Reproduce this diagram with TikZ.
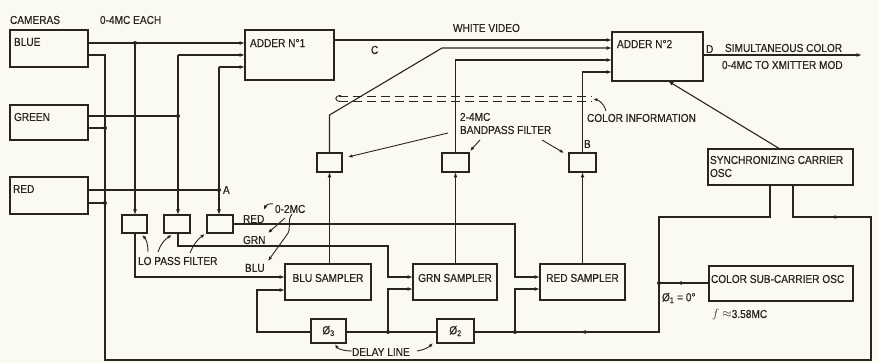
\documentclass[tikz,border=0pt]{standalone}
\usepackage{fontspec}
\setmainfont[FakeStretch=0.88,FakeBold=0.5]{Liberation Sans}
\usetikzlibrary{arrows.meta}
\definecolor{ink}{HTML}{2B241C}
\definecolor{paper}{HTML}{FBFAF2}
\newcommand{\mkbox}[5]{\node[box, minimum width={(#4)-(#2)}, minimum height={(#5)-(#3)}] (#1) at ({((#2)+(#4))/2},{((#3)+(#5))/2}) {};}
\begin{document}
\begin{tikzpicture}[x=1pt,y=-1pt,color=ink,line width=1.1pt,
  every node/.style={font=\fontsize{11.5}{13}\selectfont, inner sep=0pt, outer sep=0pt},
  box/.style={draw, rectangle},
  arr/.style={-{Latex[length=5.5pt,width=4pt]}},
  lbl/.style={anchor=west},
  note/.style={line width=0.9pt,-{Latex[length=4.5pt,width=3.5pt]}}]
\fill[paper] (0,0) rectangle (879,363);
\useasboundingbox (0,0) rectangle (879,363);

% boxes
\mkbox{blue}{10}{30}{88}{67}
\mkbox{green}{10}{105}{88}{140}
\mkbox{red}{10}{177}{88}{214}
\mkbox{addone}{245}{30}{334}{80}
\mkbox{addtwo}{612}{32}{703}{81}
\mkbox{lpa}{122}{215}{147}{233}
\mkbox{lpb}{164}{215}{190}{233}
\mkbox{lpc}{207}{215}{233}{233}
\mkbox{bpa}{317}{153}{342}{172}
\mkbox{bpb}{442}{153}{469}{172}
\mkbox{bpc}{569}{153}{596}{172}
\mkbox{bsam}{285}{264}{371}{300}
\mkbox{gsam}{413}{264}{497}{300}
\mkbox{rsam}{540}{264}{625}{300}
\mkbox{phc}{311}{319}{346}{343}
\mkbox{phb}{437}{319}{474}{343}
\mkbox{sync}{708}{149}{853}{185}
\mkbox{sub}{709}{266}{853}{301}

% texts
\node[lbl] (tcam) at (10,20) {CAMERAS};
\node[lbl] (teach) at (100,20) {0-4MC EACH};
\node[lbl] (tblue) at (14,42) {BLUE};
\node[lbl] (tgreen) at (14,117) {GREEN};
\node[lbl] (tred) at (13,189) {RED};
\node[lbl] (tadd1) at (250,43) {ADDER N°1};
\node[lbl] (tc) at (371,50) {C};
\node[lbl] (twv) at (453,28) {WHITE VIDEO};
\node[lbl] (tadd2) at (617,44) {ADDER N°2};
\node[lbl] (td) at (706,49) {D};
\node[lbl] (tsim) at (725,48) {SIMULTANEOUS COLOR};
\node[lbl] (tmod) at (722,65) {0-4MC TO XMITTER MOD};
\node[lbl] (tci) at (587,118) {COLOR INFORMATION};
\node[lbl] (tbpa) at (460,117) {2-4MC};
\node[lbl] (tbpb) at (460,130) {BANDPASS FILTER};
\node[lbl] (tb) at (584,144) {B};
\node[lbl] (tsya) at (710,160) {SYNCHRONIZING CARRIER};
\node[lbl] (tsyb) at (710,173) {OSC};
\node[lbl] (ta) at (223,190) {A};
\node[lbl] (tr) at (243,219) {RED};
\node[lbl] (tg) at (243,240) {GRN};
\node[lbl] (tbl) at (245,268) {BLU};
\node[lbl] (tzt) at (275,209) {0-2MC};
\node[lbl] (tlp) at (138,261) {LO PASS FILTER};
\node (tbs) at ([yshift=4pt]bsam.center) {BLU SAMPLER};
\node (tgs) at ([yshift=4pt]gsam.center) {GRN SAMPLER};
\node (trs) at ([yshift=4pt]rsam.center) {RED SAMPLER};
\node[lbl] (tsub) at (711,279) {COLOR SUB-CARRIER OSC};
\node[lbl] (tf) at (712,315) {$f\approx$3.58MC};
\node[lbl] (tpho) at (662,298) {Ø\textsubscript{1} = 0°};
\node (tphc) at (phc) {Ø\textsubscript{3}};
\node (tphb) at (phb) {Ø\textsubscript{2}};
\node[lbl] (tdl) at (352,352) {DELAY LINE};

% junction coordinates
\coordinate (jb) at (135,43);
\coordinate (gt) at (178,55);
\coordinate (jg) at (178,116);
\coordinate (rt) at (219,67);
\coordinate (ja) at (219,190);
\coordinate (ka) at (105,55);
\coordinate (kb) at (105,128);
\coordinate (kc) at (105,203);
\coordinate (kd) at (105,360);
\coordinate (ke) at (871,360);
\coordinate (kf) at (871,217);
\coordinate (kg) at (793,217);
\coordinate (karr) at (840,217);

% camera outputs to adder 1 and low pass filters
\draw[arr] (blue.east |- jb) -- (addone.west |- jb);
\draw[arr] (jb) -- (lpa.north -| jb);
\draw (green.east |- jg) -- (jg);
\draw[arr] (gt) -- (addone.west |- gt);
\draw[arr] (gt) -- (lpb.north -| gt);
\draw (red.east |- ja) -- (ja);
\draw[arr] (rt) -- (addone.west |- rt);
\draw[arr] (rt) -- (lpc.north -| rt);

% sync return line to cameras
\draw (blue.east |- ka) -- (ka) -- (kd) -- (ke) -- (kf) -- (kg) -- (sync.south -| kg);
\draw[arr] (kg) -- (karr);
\draw (green.east |- kb) -- (kb);
\draw (red.east |- kc) -- (kc);

% low pass outputs to samplers
\coordinate (rca) at (515,224);
\coordinate (rcb) at (515,277);
\draw[arr] (lpc.east |- rca) -- (rca) -- (rcb) -- (rsam.west |- rcb);
\coordinate (gca) at (178,246);
\coordinate (gcb) at (388,246);
\coordinate (gcc) at (388,277);
\draw[arr] (lpb.south -| gca) -- (gca) -- (gcb) -- (gcc) -- (gsam.west |- gcc);
\coordinate (bca) at (135,277);
\draw[arr] (lpa.south -| bca) -- (bca) -- (bsam.west |- bca);

% delay line chain
\coordinate (sa) at (770,217);
\coordinate (da) at (659,217);
\coordinate (db) at (659,283);
\coordinate (dc) at (659,332);
\coordinate (dd) at (515,332);
\coordinate (de) at (388,332);
\coordinate (df) at (257,332);
\coordinate (dg) at (257,290);
\coordinate (dh) at (388,289);
\coordinate (di) at (515,289);
\coordinate (darr) at (580,332);
\coordinate (sarr) at (676,283);
\draw (sync.south -| sa) -- (sa) -- (da) -- (dc) -- (phb.east |- dc);
\draw[arr] (dc) -- (darr);
\draw (sub.west |- db) -- (db);
\draw[arr] (sub.west |- db) -- (sarr);
\draw (phb.west |- dc) -- (phc.east |- dc);
\draw[arr] (phc.west |- dc) -- (df) -- (dg) -- (bsam.west |- dg);
\draw[arr] (de) -- (dh) -- (gsam.west |- dh);
\draw[arr] (dd) -- (di) -- (rsam.west |- di);

% samplers to bandpass filters
\draw[arr] (bsam.north -| bpa) -- (bpa.south);
\draw[arr] (gsam.north -| bpb) -- (bpb.south);
\draw[arr] (rsam.north -| bpc) -- (bpc.south);

% bandpass filters to adder 2
\coordinate (ea) at (329.5,115);
\coordinate (eb) at (442,48);
\coordinate (ec) at (455.5,60);
\coordinate (ed) at (582.5,72);
\draw[arr] (bpa.north) -- (ea) -- (eb) -- (addtwo.west |- eb);
\draw[arr] (bpb.north) -- (ec) -- (addtwo.west |- ec);
\draw[arr] (bpc.north) -- (ed) -- (addtwo.west |- ed);

% white video and output
\coordinate (wv) at (400,40);
\draw[arr] (addone.east |- wv) -- (addtwo.west |- wv);
\coordinate (out) at (862,55);
\draw[arr] (addtwo.east |- out) -- (out);
\coordinate (sy) at (780,149);
\coordinate (asy) at (668,81);
\draw[arr] (sync.north -| sy) -- (addtwo.south -| asy);

% dots
\foreach \p in {jb,jg,ja,kb,kc,db,dd,de} \fill (\p) circle (2pt);

% colour information bus (dashed)
\draw[line width=0.9pt,dash pattern=on 9pt off 5pt] (339,96) -- (592,96);
\draw[line width=0.9pt,dash pattern=on 9pt off 5pt] (339,101) -- (592,101);
\draw[line width=0.9pt] (341,95.5) .. controls (334,95.5) and (334,101.5) .. (341,101.5);

% annotation arrows
\draw[note] (606,111) .. controls (604,103) and (598,100) .. (593,99);
\draw[note] (448,133) -- (348,157);
\draw[note] (480,140) -- (470,151);
\draw[note] (542,140) -- (564,153);
\draw[note] (148,252) .. controls (148,244) and (146,239) .. (142,235);
\draw[note] (158,252) .. controls (160,245) and (165,239) .. (172,235);
\draw[note] (190,253) .. controls (193,245) and (198,239) .. (205,234);
\draw[note] (273,204) .. controls (270,203) and (266,205) .. (264,210);
\draw[note] (285,218) -- (268,233);
\draw[note] (292,214) .. controls (286,222) and (293,228) .. (286,236) -- (268,261);
\draw[note] (352,351) .. controls (344,351) and (338,349) .. (335,344);
\draw[note] (417,351) .. controls (424,350) and (429,347) .. (433,343);
\end{tikzpicture}
\end{document}
